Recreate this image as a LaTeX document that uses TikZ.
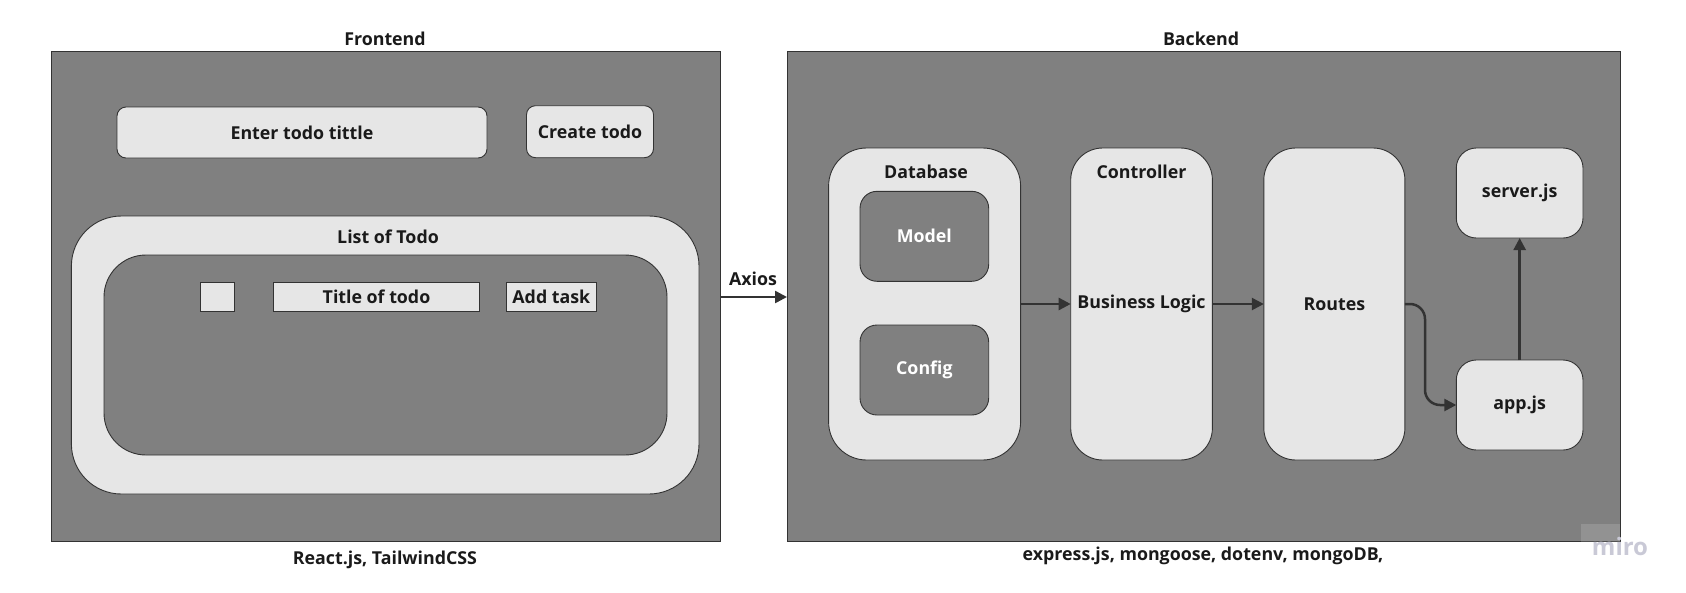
\documentclass[tikz,border=0pt]{standalone}
\usepackage{fontspec}
\setmainfont{Open Sans}
\usetikzlibrary{arrows.meta,calc}
\definecolor{boxgray}{HTML}{808080}
\definecolor{lightfill}{HTML}{E6E6E6}
\definecolor{edge}{HTML}{333333}
\definecolor{txt}{HTML}{1A1A1A}
\definecolor{wm}{HTML}{C9C9D6}
\tikzset{
  panel/.style={draw=edge, fill=boxgray, line width=0.9pt, inner sep=0pt, outer sep=0pt, anchor=north west},
  lightbox/.style={draw=edge, fill=lightfill, line width=0.9pt, inner sep=0pt, outer sep=0pt, anchor=north west, text=txt, font=\fontsize{17.8}{20}\selectfont\bfseries},
  darkbox/.style={draw=edge, fill=boxgray, line width=0.9pt, inner sep=0pt, outer sep=0pt, anchor=north west, text=white, font=\fontsize{17.8}{20}\selectfont\bfseries},
  lbl/.style={text=txt, font=\fontsize{17.8}{20}\selectfont\bfseries, inner sep=0pt},
  arr/.style={draw=edge, line width=2.5pt, -{Triangle[length=12pt,width=12pt]}},
}
\begin{document}
\begin{tikzpicture}[x=1pt,y=-1pt]
\useasboundingbox (0,0) rectangle (1686,592);
\fill[white] (0,0) rectangle (1686,592);

% Frontend
\node[panel, minimum width=669pt, minimum height=490pt] (front) at (51,51.7) {};
\node[lbl] (fronttitle) at (385,39) {Frontend};
\node[lbl] (frontfoot) at (385,560) {React.js, TailwindCSS};
\node[lightbox, rounded corners=9pt, minimum width=370pt, minimum height=51pt] (enter) at (117,107) {Enter todo tittle};
\node[lightbox, rounded corners=9pt, minimum width=127pt, minimum height=52pt] (create) at (526.5,105.7) {Create todo};
\node[lightbox, rounded corners=50pt, minimum width=627.6pt, minimum height=278pt] (list) at (71.4,216) {};
\node[lbl] (listtitle) at (388,237) {List of Todo};
\node[darkbox, rounded corners=42pt, minimum width=563pt, minimum height=200pt] (inner) at (104,255) {};
\node[lightbox, rounded corners=0pt, minimum width=34pt, minimum height=29pt] (check) at (200.5,282) {};
\node[lightbox, rounded corners=0pt, minimum width=206pt, minimum height=29pt] (title) at (273.5,282) {Title of todo};
\node[lightbox, rounded corners=0pt, minimum width=89.5pt, minimum height=29pt] (addtask) at (506.6,282) {Add task};

% Backend
\node[panel, minimum width=833pt, minimum height=490pt] (back) at (787,51.7) {};
\node[lbl] (backtitle) at (1201,39) {Backend};
\node[lbl] (backfoot) at (1203,556) {express.js, mongoose, dotenv, mongoDB,};

\node[lightbox, rounded corners=38pt, minimum width=192pt, minimum height=312pt] (db) at (828.6,148) {};
\node[lbl] (dbtitle) at (926,172) {Database};
\node[darkbox, rounded corners=17pt, minimum width=128.7pt, minimum height=90pt] (model) at (860,191.3) {Model};
\node[darkbox, rounded corners=17pt, minimum width=128.7pt, minimum height=90pt] (config) at (860,325) {Config};

\node[lightbox, rounded corners=32pt, minimum width=141.7pt, minimum height=312pt] (ctrl) at (1070.7,148) {Business Logic};
\node[lbl] (ctrltitle) at (1141.5,172) {Controller};

\node[lightbox, rounded corners=32pt, minimum width=141.1pt, minimum height=312pt] (routes) at (1263.8,148) {Routes};

\node[lightbox, rounded corners=20pt, minimum width=126.7pt, minimum height=90pt] (server) at (1456.3,148) {server.js};
\node[lightbox, rounded corners=20pt, minimum width=126.7pt, minimum height=90pt] (app) at (1456.3,360) {app.js};

% connectors
\draw[arr] (front.east |- 0,297) -- (back.west |- 0,297);
\node[lbl] (axios) at (753,279) {Axios};
\draw[arr] (db.east) -- (ctrl.west);
\draw[arr] (ctrl.east) -- (routes.west);
\coordinate (bend) at (1425,405);
\draw[arr, rounded corners=15pt] (routes.east) -| (bend) -- (app.west);
\draw[arr] (app.north) -- (server.south);

% watermark
\fill[white, opacity=0.15] (1581,524) rectangle (1620,541.5);
\node[text=wm, font=\fontsize{24}{26}\selectfont\bfseries, inner sep=0pt] (miro) at (1620,546) {miro};
\end{tikzpicture}
\end{document}
